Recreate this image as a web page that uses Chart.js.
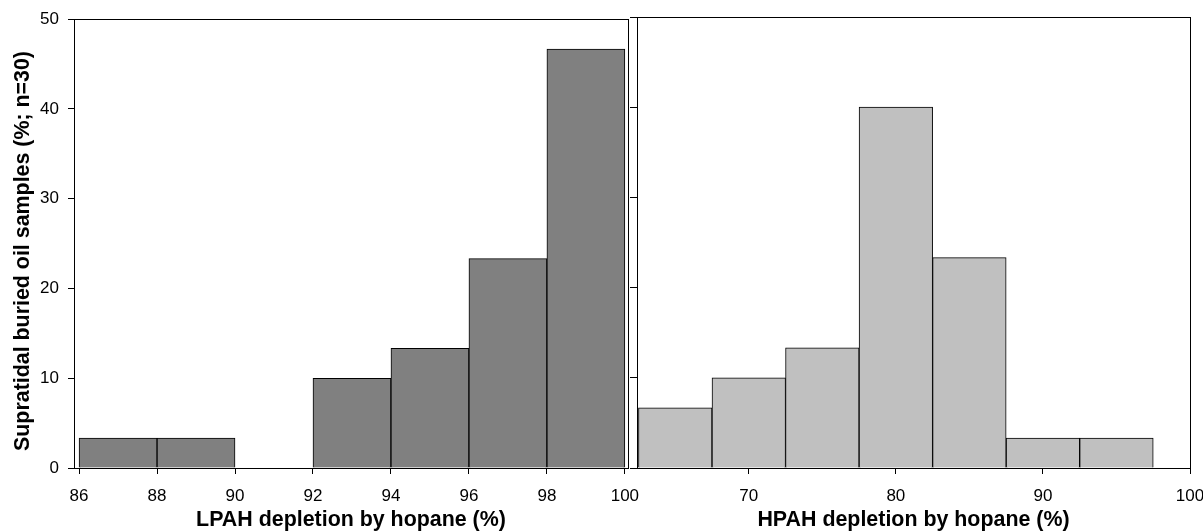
<!DOCTYPE html>
<html>
<head>
<meta charset="utf-8">
<script src="https://cdn.jsdelivr.net/npm/chart.js@4.4.1/dist/chart.umd.min.js"></script>
<style>
  html, body { margin: 0; padding: 0; background: #fff; }
  #wrap { position: relative; width: 1203px; height: 531px; overflow: hidden; }
  #left { position: absolute; left: 0; top: 0; }
  #right { position: absolute; left: 628px; top: 0; }
</style>
</head>
<body>
<div id="wrap">
  <canvas id="left" width="645" height="531"></canvas>
  <canvas id="right" width="575" height="531"></canvas>
</div>
<script>
// bin centres and percent of samples per bin
const lpahBins = [87, 89, 91, 93, 95, 97, 99];
const lpahPct  = [3.33, 3.33, 0, 10, 13.33, 23.33, 46.67];
const hpahBins = [65, 70, 75, 80, 85, 90, 95];
const hpahPct  = [6.67, 10, 13.33, 40, 23.33, 3.33, 3.33];

const lpahTicks = [86, 88, 90, 92, 94, 96, 98, 100];
const hpahTicks = [70, 80, 90, 100];
const yTicks    = [0, 10, 20, 30, 40, 50];

const yTitle = 'Supratidal buried oil samples (%; n=30)';

Chart.defaults.font.family = '"Liberation Sans", Arial, sans-serif';
Chart.defaults.color = '#000';

// closes the box round the plot area
const frame = {
  id: 'frame',
  afterDraw(chart) {
    const a = chart.chartArea;
    const c = chart.ctx;
    c.save();
    c.strokeStyle = '#000';
    c.lineWidth = 1;
    c.strokeRect(Math.round(a.left) + 0.5, Math.round(a.top) + 0.5,
                 Math.round(a.right - a.left), Math.round(a.bottom - a.top));
    c.restore();
  }
};

// y title sits a little below the middle of the axis in the original
const sideTitle = {
  id: 'sideTitle',
  afterDraw(chart) {
    if (chart.canvas.id !== 'left') return;
    const c = chart.ctx;
    c.save();
    c.translate(23, 251);
    c.rotate(-Math.PI / 2);
    c.font = 'bold 21.4px "Liberation Sans", Arial, sans-serif';
    c.fillStyle = '#000';
    c.textAlign = 'center';
    c.textBaseline = 'middle';
    c.fillText(yTitle, 0, 0);
    c.restore();
  }
};

function setTicks(list) {
  return function(scale) {
    scale.ticks = list.map(function(v){ return { value: v }; });
  };
}

function histogram(id, bins, pct, color, xMin, xMax, xTicks, xTitle, showY) {
  return new Chart(document.getElementById(id), {
    type: 'bar',
    data: {
      datasets: [{
        data: bins.map(function(b, i){ return { x: b, y: pct[i] }; }),
        backgroundColor: color,
        borderColor: '#000',
        borderWidth: 1,
        barPercentage: 1,
        categoryPercentage: 1
      }]
    },
    options: {
      responsive: false,
      animation: false,
      layout: { padding: showY ? { top: 17, right: 17, bottom: 0, left: 0 }
                               : { top: 17, right: 13, bottom: 0, left: 0 } },
      plugins: { legend: { display: false }, tooltip: { enabled: false } },
      scales: {
        x: {
          type: 'linear',
          min: xMin,
          max: xMax,
          offset: false,
          afterBuildTicks: setTicks(xTicks),
          afterFit: function(s){ s.height = 63; s.paddingLeft = 0; s.paddingRight = 0; },
          grid: { drawOnChartArea: false, drawTicks: true, tickLength: 6, color: '#000', offset: false },
          border: { display: false },
          ticks: { font: { size: 17 }, color: '#000', padding: 12, maxRotation: 0, autoSkip: false },
          title: { display: true, text: xTitle, color: '#000',
                   font: { size: 21.4, weight: 'bold' }, padding: { top: 0, bottom: -2 } }
        },
        y: {
          min: 0,
          max: 50,
          afterBuildTicks: setTicks(yTicks),
          afterFit: function(s){ s.width = showY ? 74 : 9; },
          grid: { drawOnChartArea: false, drawTicks: true, tickLength: showY ? 6 : 7, color: '#000' },
          border: { display: false },
          ticks: { display: showY, font: { size: 17 }, color: '#000', padding: 9 },
          title: { display: false }
        }
      }
    },
    plugins: [frame, sideTitle]
  });
}

histogram('left', lpahBins, lpahPct, '#808080', 85.87, 100.08, lpahTicks,
          'LPAH depletion by hopane (%)', true);
histogram('right', hpahBins, hpahPct, '#c0c0c0', 62.4, 100, hpahTicks,
          'HPAH depletion by hopane (%)', false);
</script>
</body>
</html>
